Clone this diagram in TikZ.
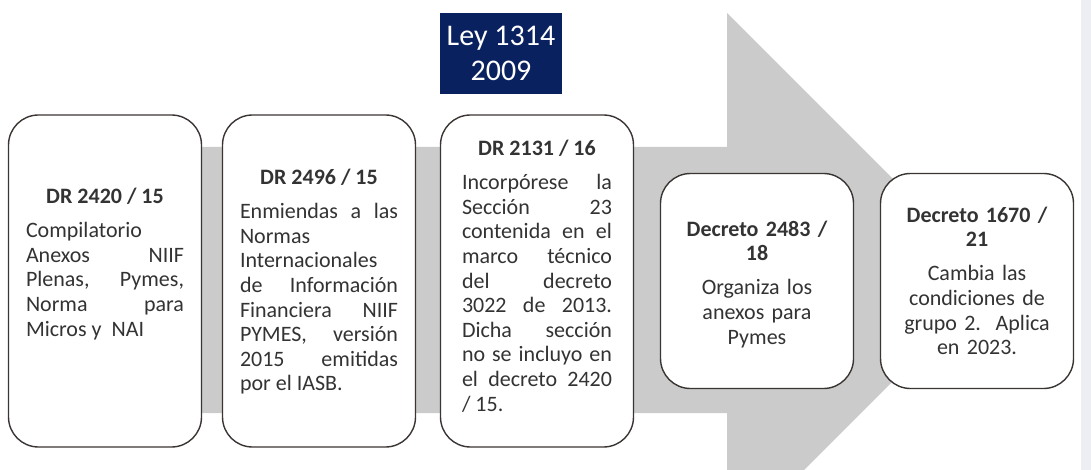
\documentclass[tikz,border=0pt]{standalone}
\usepackage{fontspec}
\setmainfont{Carlito}
\usepackage{tikz}
\usetikzlibrary{positioning}

\definecolor{arrowgray}{HTML}{CBCBCB}
\definecolor{boxline}{HTML}{3A3533}
\definecolor{txtgray}{HTML}{333333}
\definecolor{leyblue}{HTML}{0A2160}
\definecolor{sidestrip}{HTML}{EDEDF4}

\newcommand{\boxtitle}[1]{{\centering\bfseries #1\par}\vspace{9.5pt}}

\begin{document}
\begin{tikzpicture}[x=1pt, y=-1pt,
    roundbox/.style={rectangle, rounded corners=30pt, draw=boxline, line width=1.4pt, fill=white,
        minimum width=193pt, inner sep=0pt, outer sep=0pt},
    tallbox/.style={roundbox, minimum height=332pt},
    shortbox/.style={roundbox, minimum height=215pt},
    boxtext/.style={text=txtgray, inner sep=0pt, anchor=north,
        font=\fontsize{22}{24.6}\selectfont,
        execute at begin node={\pretolerance=10000\tolerance=10000\hbadness=10000}},
    justtext/.style={boxtext, align=justify},
    centtext/.style={boxtext, align=center, text width=170pt},
]
\useasboundingbox (0,0) rectangle (1091,470);

% big gray arrow behind the boxes
\begin{scope}
\clip (0,0) rectangle (1091,470);
\fill[arrowgray] (30,147) -- (727,147) -- (727,13) -- (994,280) -- (727,547) -- (727,413) -- (30,413) -- cycle;
\end{scope}
\fill[sidestrip] (1081,0) rectangle (1091,470);

% Ley
\node[fill=leyblue, text=white, align=center, minimum width=122pt, minimum height=81pt,
    inner sep=0pt, font=\fontsize{30}{35}\selectfont] (ley) at (501,53.5) {Ley 1314\\2009};

% boxes
\node[tallbox] (b1) at (105,281) {};
\node[tallbox] (b2) [right = 21pt of b1] {};
\node[tallbox] (b3) [right = 25pt of b2] {};
\node[shortbox] (b4) [right = 27pt of b3] {};
\node[shortbox] (b5) [right = 27pt of b4] {};

% texts
\node[justtext, text width=158pt] (t1) [below = 73pt of b1.north] {\boxtitle{DR 2420 / 15}%
Compilatorio\linebreak Anexos NIIF\linebreak Plenas, Pymes,\linebreak Norma para\linebreak Micros y\ \ NAI};
\node[justtext, text width=158pt] (t2) [below = 54pt of b2.north] {\boxtitle{DR 2496 / 15}%
Enmiendas a las\linebreak Normas\linebreak Internacionales\linebreak de Información\linebreak Financiera NIIF\linebreak PYMES, versión\linebreak 2015 emitidas\linebreak por el IASB.};
\node[justtext, text width=150pt] (t3) [below = 25pt of b3.north] {\boxtitle{DR 2131 / 16}%
Incorpórese la\linebreak Sección 23\linebreak contenida en el\linebreak marco técnico\linebreak del decreto\linebreak 3022 de 2013.\linebreak Dicha sección\linebreak no se incluyo en\linebreak el decreto 2420\linebreak / 15.};
\node[centtext] (t4) [below = 47pt of b4.north] {\boxtitle{Decreto 2483 /\\18}%
Organiza los\\anexos para\\Pymes};
\node[centtext] (t5) [below = 33pt of b5.north] {\boxtitle{Decreto 1670 /\\21}%
Cambia las\\condiciones de\\grupo 2.\ \ Aplica\\en 2023.};
\end{tikzpicture}
\end{document}
